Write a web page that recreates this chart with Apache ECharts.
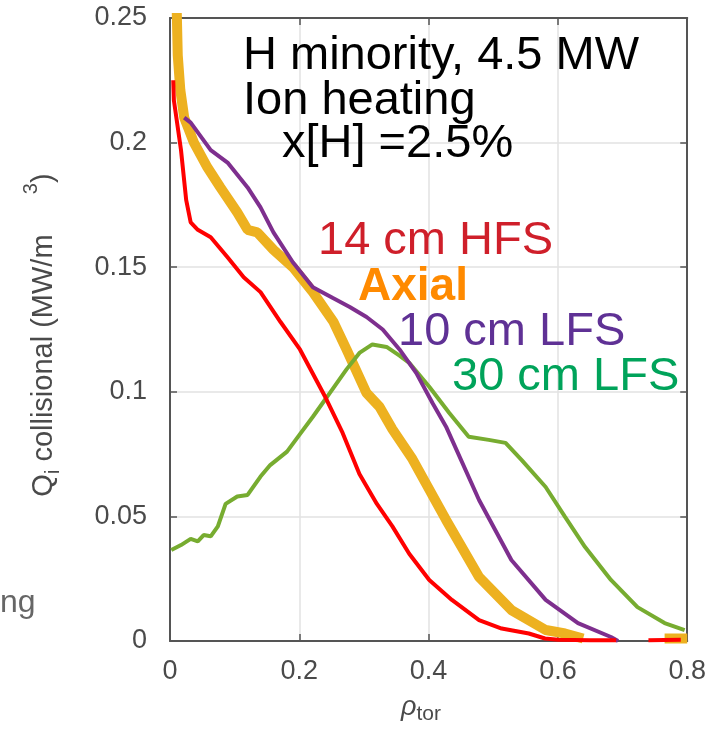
<!DOCTYPE html>
<html>
<head>
<meta charset="utf-8">
<script src="https://cdn.jsdelivr.net/npm/echarts@6/dist/echarts.min.js"></script>
<style>html,body{margin:0;padding:0;background:#fff;}#c{width:709px;height:732px;}</style>
</head>
<body>
<div id="c"></div>
<script>
// ---- data ----
var xTicks = [0, 0.2, 0.4, 0.6, 0.8];
var yTicks = [0, 0.05, 0.1, 0.15, 0.2, 0.25];

var axialRho = [0.008, 0.012, 0.016, 0.022, 0.037, 0.058, 0.078, 0.104, 0.120, 0.135, 0.160, 0.190, 0.221, 0.253, 0.273, 0.304, 0.324, 0.344, 0.375, 0.427, 0.478, 0.528, 0.581, 0.611, 0.639, 0.70, 0.765, 0.80];
var axialQ   = [0.28, 0.235, 0.221, 0.21, 0.2, 0.19, 0.182, 0.172, 0.165, 0.164, 0.157, 0.15, 0.14, 0.128, 0.117, 0.0995, 0.094, 0.085, 0.073, 0.0486, 0.0257, 0.0124, 0.0044, 0.003, 0.001, null, 0.001, 0.001];

var hfsRho = [0.005, 0.006, 0.009, 0.017, 0.025, 0.032, 0.043, 0.063, 0.089, 0.114, 0.140, 0.171, 0.201, 0.241, 0.267, 0.293, 0.320, 0.344, 0.370, 0.401, 0.436, 0.478, 0.513, 0.555, 0.58, 0.60, 0.65, 0.69, 0.71, 0.74, 0.79];
var hfsQ   = [0.225, 0.217, 0.217, 0.197, 0.177, 0.168, 0.165, 0.162, 0.154, 0.146, 0.14, 0.128, 0.117, 0.0975, 0.0835, 0.067, 0.055, 0.046, 0.035, 0.0245, 0.0165, 0.0084, 0.005, 0.003, 0.001, 0.0005, 0.0003, 0.0003, null, 0.0003, 0.0005];

var lfs10Rho = [0.022, 0.032, 0.063, 0.089, 0.120, 0.140, 0.160, 0.190, 0.221, 0.252, 0.278, 0.304, 0.329, 0.355, 0.381, 0.406, 0.427, 0.478, 0.528, 0.581, 0.631, 0.682, 0.693];
var lfs10Q   = [0.21, 0.208, 0.197, 0.192, 0.182, 0.174, 0.164, 0.152, 0.142, 0.1376, 0.134, 0.13, 0.125, 0.117, 0.1075, 0.0955, 0.086, 0.0566, 0.0325, 0.0165, 0.0072, 0.0016, 0.0];

var lfs30Rho = [0.002, 0.017, 0.032, 0.043, 0.052, 0.063, 0.074, 0.086, 0.104, 0.120, 0.140, 0.155, 0.181, 0.201, 0.221, 0.243, 0.273, 0.293, 0.313, 0.335, 0.355, 0.370, 0.401, 0.432, 0.462, 0.493, 0.519, 0.544, 0.581, 0.611, 0.642, 0.682, 0.723, 0.765, 0.796];
var lfs30Q   = [0.0365, 0.0385, 0.041, 0.040, 0.0425, 0.042, 0.046, 0.055, 0.058, 0.0586, 0.066, 0.0706, 0.076, 0.083, 0.09, 0.098, 0.109, 0.1156, 0.119, 0.118, 0.1145, 0.1116, 0.102, 0.0915, 0.082, 0.0807, 0.0795, 0.0726, 0.0618, 0.0498, 0.0377, 0.0245, 0.0136, 0.0072, 0.0044];

function pairs(xs, ys) { return xs.map(function (x, i) { return [x, ys[i]]; }); }

var FONT = '"Liberation Sans", Arial, sans-serif';
var chart = echarts.init(document.getElementById('c'), null, {renderer: 'canvas'});

var axisCommon = {
  type: 'value',
  axisLine: {show: true, onZero: false, lineStyle: {color: '#555', width: 2}},
  axisTick: {show: true, inside: true, length: 7, lineStyle: {color: '#555', width: 1.5}}
};

var option = {
  animation: false,
  backgroundColor: '#fff',
  grid: {left: 170, right: 19, top: 18, bottom: 91, containLabel: false},
  xAxis: [
    Object.assign({}, axisCommon, {
      min: xTicks[0], max: xTicks[xTicks.length - 1], interval: 0.2, position: 'bottom',
      axisLabel: {fontSize: 27, color: '#4a4a4a', margin: 17, fontFamily: FONT, showMinLabel: true, showMaxLabel: true},
      splitLine: {show: true, lineStyle: {color: '#e2e2e2', width: 1.5}}
    }),
    Object.assign({}, axisCommon, {
      min: xTicks[0], max: xTicks[xTicks.length - 1], interval: 0.2, position: 'top',
      axisLabel: {show: false}, splitLine: {show: false}
    })
  ],
  yAxis: [
    Object.assign({}, axisCommon, {
      min: yTicks[0], max: yTicks[yTicks.length - 1], interval: 0.05, position: 'left',
      axisLabel: {fontSize: 27, color: '#4a4a4a', margin: 23, fontFamily: FONT, showMinLabel: true, showMaxLabel: true},
      splitLine: {show: true, lineStyle: {color: '#e2e2e2', width: 1.5}}
    }),
    Object.assign({}, axisCommon, {
      min: yTicks[0], max: yTicks[yTicks.length - 1], interval: 0.05, position: 'right',
      axisLabel: {show: false}, splitLine: {show: false}
    })
  ],
  series: [
    {name: 'Axial', type: 'line', data: pairs(axialRho, axialQ), showSymbol: false, clip: true,
     lineStyle: {color: '#edb120', width: 10, cap: 'butt'}, itemStyle: {color: '#edb120'}, z: 2},
    {name: '30 cm LFS', type: 'line', data: pairs(lfs30Rho, lfs30Q), showSymbol: false, clip: true,
     lineStyle: {color: '#77ac30', width: 4}, itemStyle: {color: '#77ac30'}, z: 3},
    {name: '10 cm LFS', type: 'line', data: pairs(lfs10Rho, lfs10Q), showSymbol: false, clip: true,
     lineStyle: {color: '#7e2f8e', width: 4}, itemStyle: {color: '#7e2f8e'}, z: 4},
    {name: '14 cm HFS', type: 'line', data: pairs(hfsRho, hfsQ), showSymbol: false, clip: true,
     lineStyle: {color: '#ff0000', width: 4}, itemStyle: {color: '#ff0000'}, z: 5}
  ],
  graphic: [
    {type: 'text', x: 243, y: 56, z: 100, style: {text: 'H minority, 4.5 MW', font: '47px ' + FONT, fill: '#000', verticalAlign: 'middle'}},
    {type: 'text', x: 243, y: 101, z: 100, style: {text: 'Ion heating', font: '47px ' + FONT, fill: '#000', verticalAlign: 'middle'}},
    {type: 'text', x: 282, y: 144, z: 100, style: {text: 'x[H] =2.5%', font: '47px ' + FONT, fill: '#000', verticalAlign: 'middle'}},
    {type: 'text', x: 318, y: 241, z: 100, style: {text: '14 cm HFS', font: '47px ' + FONT, fill: '#cf1f2a', verticalAlign: 'middle'}},
    {type: 'text', x: 358, y: 287, z: 100, style: {text: 'Axial', font: 'bold 46px ' + FONT, fill: '#ff8a00', verticalAlign: 'middle'}},
    {type: 'text', x: 398, y: 332, z: 100, style: {text: '10 cm LFS', font: '47px ' + FONT, fill: '#5f3195', verticalAlign: 'middle'}},
    {type: 'text', x: 452, y: 377, z: 100, style: {text: '30 cm LFS', font: '47px ' + FONT, fill: '#00a35a', verticalAlign: 'middle'}},
    {type: 'text', x: 0, y: 603, z: 100, style: {text: 'ng', font: '32px ' + FONT, fill: '#666', verticalAlign: 'middle'}},
    {type: 'text', x: 401, y: 707, z: 100, style: {
      text: '{r|ρ}{s|tor}', verticalAlign: 'middle',
      rich: {r: {font: 'italic 27px ' + FONT, fill: '#4a4a4a'}, s: {font: '21px ' + FONT, fill: '#4a4a4a', padding: [15, 0, 0, 0]}}
    }},
    {type: 'text', x: 44, y: 335, rotation: Math.PI / 2, z: 100, style: {
      text: '{n|Q}{s|i}{n| collisional (MW/m}{g|     }{p|3}{n|)}', align: 'center', verticalAlign: 'middle',
      rich: {
        n: {font: '29px ' + FONT, fill: '#4a4a4a'},
        s: {font: '20px ' + FONT, fill: '#4a4a4a', padding: [18, 0, 0, 0]},
        g: {font: '29px ' + FONT},
        p: {font: '20px ' + FONT, fill: '#4a4a4a', padding: [0, 0, 26, 0]}
      }
    }}
  ]
};
chart.setOption(option);
</script>
</body>
</html>
